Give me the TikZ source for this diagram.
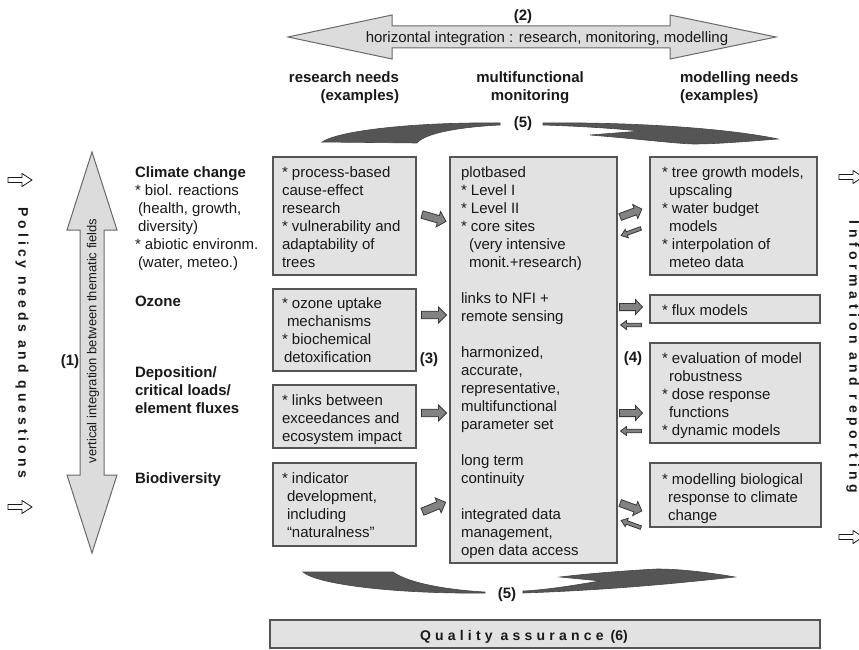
\documentclass[tikz,border=0pt]{standalone}
\usepackage{fontspec}
\setmainfont{Liberation Sans}
\definecolor{boxfill}{RGB}{226,226,226}
\definecolor{boxline}{RGB}{85,85,85}
\definecolor{bigfill}{RGB}{220,220,220}
\definecolor{bigline}{RGB}{105,105,105}
\definecolor{swooshc}{RGB}{85,85,85}
\definecolor{arrfill}{RGB}{130,130,130}
\definecolor{arrline}{RGB}{55,55,55}
\definecolor{txtc}{RGB}{25,25,25}
\tikzset{
  pics/barrow/.style n args={4}{code={
    \path[draw=arrline, fill=arrfill, line width=0.8pt, line join=miter]
      ({-#1/2},{-#2}) -- ({#1/2-#4},{-#2}) -- ({#1/2-#4},{-#3}) -- ({#1/2},0)
      -- ({#1/2-#4},{#3}) -- ({#1/2-#4},{#2}) -- ({-#1/2},{#2}) -- cycle;
  }},
  pics/harrow/.style={code={
    \path[draw=txtc, line width=0.8pt, fill=white]
      (-12,-2.5) -- (2,-2.5) -- (2,-6.5) -- (12,0) -- (2,6.5) -- (2,2.5) -- (-12,2.5) -- cycle;
  }}
}
\begin{document}
% multi-line nodes: anchor "base" = baseline of the LAST line
\begin{tikzpicture}[x=1pt,y=-1pt,
  every node/.style={inner sep=0pt, outer sep=0pt, text=txtc},
  txt/.style={font=\fontsize{15}{18}\selectfont, align=left, anchor=base west},
  ttl/.style={font=\fontsize{15}{18}\selectfont\bfseries, align=left, anchor=base west},
  lbl/.style={font=\fontsize{15}{18}\selectfont\bfseries, anchor=base},
  panel/.style={draw=boxline, fill=boxfill, line width=1.2pt, anchor=north west},
  bigarrow/.style={draw=bigline, fill=bigfill, line width=1pt},
  swoosh/.style={fill=swooshc, draw=swooshc!80!black, line width=0.6pt},
  sidetxt/.style={font=\fontsize{14}{18}\selectfont\bfseries\addfontfeature{LetterSpace=#1}, rotate=-90}
]
\useasboundingbox[fill=white] (0,0) rectangle (859,650);

% ---- horizontal integration arrow (2)
\path[bigarrow] (288,37) -- (392,15) -- (392,26) -- (670,26) -- (670,15) -- (776,37)
  -- (670,59) -- (670,48) -- (392,48) -- (392,59) -- cycle;
\node[font=\fontsize{15}{18}\selectfont, anchor=base] (htext) at (547,43)
  {horizontal integration : research, monitoring, modelling};
\node[lbl] (n2) at (523,21) {(2)};

% ---- column headers
\node[ttl, align=right, anchor=base east] (hres) at (399,101) {research needs\\(examples)};
\node[ttl, align=center, anchor=base] (hmon) at (530,101) {multifunctional\\monitoring};
\node[ttl] (hmod) at (680,101) {modelling needs\\(examples)};

% ---- vertical integration arrow (1)
\path[bigarrow] (92,152) -- (117,230) -- (104,230) -- (104,475) -- (117,475) -- (92,553)
  -- (67,475) -- (80,475) -- (80,230) -- (67,230) -- cycle;
\node[font=\fontsize{13}{16}\selectfont, rotate=90] (vtext) at (93,341)
  {vertical integration between thematic fields};
\node[lbl] (n1) at (70,365) {(1)};

% ---- side texts
\node[sidetxt=28] (policy) at (22,343) {Policy needs and questions};
\pic at (20,180) {harrow};
\pic at (20,507) {harrow};
\node[sidetxt=33] (info) at (853,357) {Information and reporting};
\pic at (851,177) {harrow};
\pic at (851,537) {harrow};

% ---- thematic labels
\node[txt] (lclim) at (135,267) {\textbf{Climate change}\\* biol. reactions\\\hspace*{3pt}(health, growth,\\\hspace*{3pt}diversity)\\* abiotic environm.\\\hspace*{3pt}(water, meteo.)};
\node[ttl] (loz) at (135,306) {Ozone};
\node[ttl] (ldep) at (135,413) {Deposition/\\critical loads/\\element fluxes};
\node[ttl] (lbio) at (135,483) {Biodiversity};

% ---- research boxes
\node[panel, minimum width=143pt, minimum height=118pt] (r1) at (273,157) {};
\node[panel, minimum width=143pt, minimum height=82pt] (r2) at (273,289) {};
\node[panel, minimum width=143pt, minimum height=63pt] (r3) at (273,385) {};
\node[panel, minimum width=143pt, minimum height=83pt] (r4) at (273,463) {};
\node[txt] (tr1) at (282,267) {* process-based\\cause-effect\\research\\* vulnerability and\\adaptability of\\trees};
\node[txt] (tr2) at (282,362) {* ozone uptake\\\hspace*{5pt}mechanisms\\* biochemical\\\hspace*{2pt}detoxification};
\node[txt] (tr3) at (282,441) {* links between\\exceedances and\\ecosystem impact};
\node[txt] (tr4) at (282,537) {* indicator\\\hspace*{5pt}development,\\\hspace*{5pt}including\\\hspace*{5pt}“naturalness”};

% ---- monitoring box
\node[panel, minimum width=167pt, minimum height=406pt] (mon) at (450,157) {};
\node[txt] (tmon) at (461,555) {plotbased\\* Level I\\* Level II\\* core sites\\\hspace*{8pt}(very intensive\\\hspace*{8pt}monit.+research)\\[18pt]links to NFI +\\remote sensing\\[18pt]harmonized,\\accurate,\\representative,\\multifunctional\\parameter set\\[18pt]long term\\continuity\\[18pt]integrated data\\management,\\open data access};
\node[lbl] (n3) at (429,363) {(3)};
\node[lbl] (n4) at (633,362) {(4)};

% ---- modelling boxes
\node[panel, minimum width=167pt, minimum height=118pt] (d1) at (650,157) {};
\node[panel, minimum width=170pt, minimum height=28pt] (d2) at (650,295) {};
\node[panel, minimum width=170pt, minimum height=100pt] (d3) at (650,343) {};
\node[panel, minimum width=171pt, minimum height=64pt] (d4) at (650,463) {};
\node[txt] (td1) at (662,267) {* tree growth models,\\\hspace*{7pt}upscaling\\* water budget\\\hspace*{7pt}models\\* interpolation of\\\hspace*{7pt}meteo data};
\node[txt] (td2) at (662,315) {* flux models};
\node[txt] (td3) at (662,435) {* evaluation of model\\\hspace*{7pt}robustness\\* dose response\\\hspace*{7pt}functions\\* dynamic models};
\node[txt] (td4) at (662,520) {* modelling biological\\\hspace*{6pt}response to climate\\\hspace*{6pt}change};

% ---- block arrows research -> monitoring
\pic[rotate=-16] at (434,218) {barrow={25}{3.8}{8}{8}};
\pic at (434,315) {barrow={25}{3.8}{8}{8}};
\pic at (434,413) {barrow={25}{3.8}{8}{8}};
\pic[rotate=22] at (434,507) {barrow={25}{3.8}{8}{8}};

% ---- block arrows monitoring <-> modelling
\pic[rotate=20] at (631,213) {barrow={23}{3.6}{7.5}{7}};
\pic[rotate=200] at (631,232) {barrow={21}{1.8}{4.5}{6}};
\pic at (631,307) {barrow={23}{3.6}{7.5}{7}};
\pic[rotate=180] at (631,325) {barrow={21}{1.8}{4.5}{6}};
\pic at (631,413) {barrow={23}{3.6}{7.5}{7}};
\pic[rotate=180] at (631,431) {barrow={21}{1.8}{4.5}{6}};
\pic[rotate=-20] at (631,507) {barrow={23}{3.6}{7.5}{7}};
\pic[rotate=160] at (631,524) {barrow={21}{1.8}{4.5}{6}};

% ---- swooshes (5)
\path[swoosh] (500,123) .. controls (420,122) and (340,130) .. (322,142) -- (417,143)
  .. controls (425,133) and (460,127) .. (500,125) -- cycle;
\path[swoosh] (543,123) .. controls (620,122) and (720,127) .. (778,139)
  .. controls (740,142) and (715,144) .. (693,144)
  .. controls (670,143) and (650,140) .. (590,135)
  .. controls (615,133) and (630,132) .. (640,131)
  .. controls (610,128) and (575,126) .. (543,125) -- cycle;
\node[lbl] (n5t) at (523,128) {(5)};
\path[swoosh] (303,572) -- (393,572) .. controls (410,584) and (450,590) .. (485,592)
  -- (485,593) .. controls (400,594) and (318,585) .. (303,572) -- cycle;
\path[swoosh] (523,593) .. controls (610,590) and (680,583) .. (735,577)
  .. controls (700,571) and (675,569) .. (657,569)
  .. controls (620,571) and (585,574) .. (560,577)
  .. controls (580,579) and (592,580) .. (600,581)
  .. controls (570,586) and (545,590) .. (523,591) -- cycle;
\node[lbl] (n5b) at (507,598) {(5)};

% ---- quality assurance
\node[panel, minimum width=550pt, minimum height=28pt] (qa) at (270,620) {};
\node[font=\fontsize{14}{18}\selectfont\bfseries, anchor=base west] (tqa) at (420,640)
  {{\addfontfeature{LetterSpace=30}Quality assurance}\hspace{7pt}(6)};
\end{tikzpicture}
\end{document}
